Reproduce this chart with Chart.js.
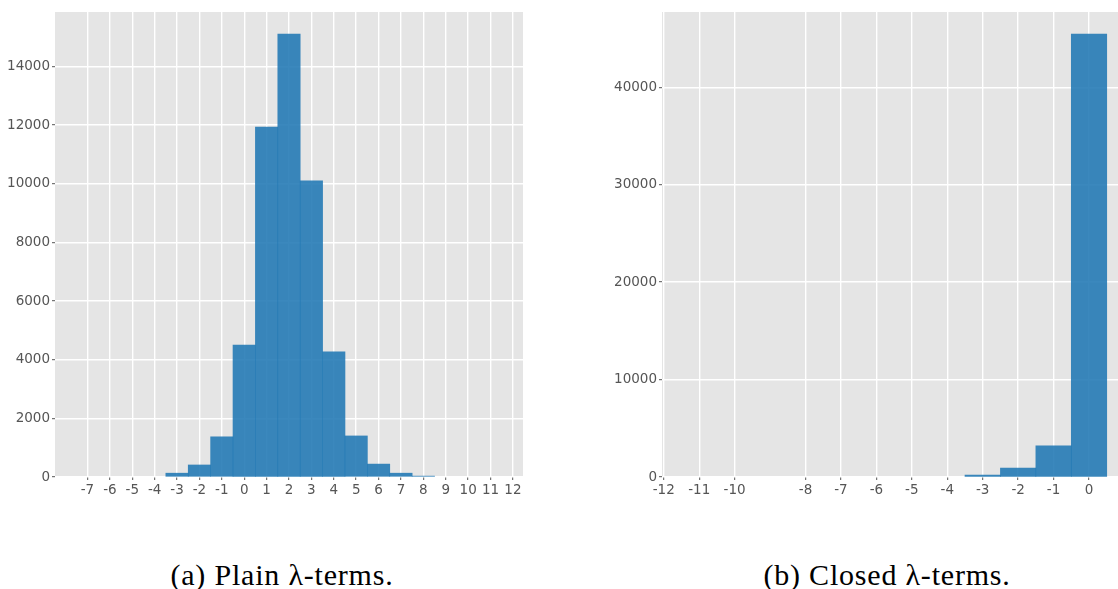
<!DOCTYPE html>
<html>
<head>
<meta charset="utf-8">
<script src="https://cdn.jsdelivr.net/npm/chart.js@4.4.1/dist/chart.umd.min.js"></script>
<style>
  html, body { margin: 0; padding: 0; background: #fff; width: 1118px; height: 589px; overflow: hidden; }
  #wrap { position: relative; width: 1118px; height: 589px; overflow: hidden; }
  canvas { position: absolute; top: 0; }
  .cap { position: absolute; top: 558px; font-family: "Liberation Serif", serif; font-size: 30px; letter-spacing: 0.8px; color: #000; white-space: nowrap; transform: translateX(-50%); }
</style>
</head>
<body>
<div id="wrap">
  <canvas id="plain" width="540" height="500" style="left:0px"></canvas>
  <canvas id="closed" width="540" height="500" style="left:600px"></canvas>
  <div class="cap" style="left:282px">(a) Plain λ-terms.</div>
  <div class="cap" style="left:887px">(b) Closed λ-terms.</div>
</div>
<script>
// histogram (a): plain terms, bin centres and counts
const plainBins = [-7, -6, -5, -4, -3, -2, -1, 0, 1, 2, 3, 4, 5, 6, 7, 8, 9, 10, 11]
const plainCounts = [0, 0, 0, 0, 130, 410, 1370, 4500, 11930, 15100, 10100, 4270, 1400, 440, 130, 30, 0, 0, 0]
const plainXTicks = [-7, -6, -5, -4, -3, -2, -1, 0, 1, 2, 3, 4, 5, 6, 7, 8, 9, 10, 11, 12]
const plainYTicks = [0, 2000, 4000, 6000, 8000, 10000, 12000, 14000]

// histogram (b): closed terms
const closedBins = [-11, -10, -9, -8, -7, -6, -5, -4, -3, -2, -1, 0]
const closedCounts = [0, 0, 0, 0, 0, 0, 0, 0, 200, 920, 3200, 45470]
const closedXTicks = [-12, -11, -10, -8, -7, -6, -5, -4, -3, -2, -1, 0]
const closedYTicks = [0, 10000, 20000, 30000, 40000]

Chart.defaults.font.family = "DejaVu Sans"
Chart.defaults.font.size = 13.5
Chart.defaults.color = "#555555"

const bgPlugin = {
    id: "ggBackground",
    beforeDraw: (chart) => {
        const a = chart.chartArea
        const ctx = chart.ctx
        ctx.save()
        ctx.fillStyle = "#E5E5E5"
        ctx.fillRect(a.left, a.top, a.right - a.left, a.bottom - a.top)
        ctx.restore()
    }
}

const makeHist = (id, bins, counts, xTicks, yTicks, xRange, yMax, yWidth, padRight) => {
    const ctx = document.getElementById(id).getContext('2d')
    return new Chart(ctx, {
        type: 'bar',
        data: {
            datasets: [{
                // empty bins stay in the data but draw nothing
                data: bins.map((b, i) => ({ x: b, y: counts[i] === 0 ? null : counts[i] })),
                backgroundColor: "rgba(31, 119, 180, 0.875)",
                borderWidth: 0,
                barPercentage: 1,
                categoryPercentage: 1
            }]
        },
        options: {
            responsive: false,
            animation: false,
            events: [],
            layout: { padding: { top: 12, right: padRight, left: 0, bottom: 0 } },
            plugins: {
                legend: { display: false },
                tooltip: { enabled: false }
            },
            scales: {
                x: {
                    type: 'linear',
                    offset: false,
                    min: xRange[0],
                    max: xRange[1],
                    afterBuildTicks: (scale) => { scale.ticks = xTicks.map(v => ({ value: v })) },
                    afterFit: (scale) => { scale.height = 23 },
                    grid: { offset: false, color: "#FFFFFF", lineWidth: 1.4, tickColor: "#555555", tickLength: 3, tickWidth: 1 },
                    border: { display: false },
                    ticks: { padding: 2, maxRotation: 0, autoSkip: false, callback: v => String(v) }
                },
                y: {
                    min: 0,
                    max: yMax,
                    afterBuildTicks: (scale) => { scale.ticks = yTicks.map(v => ({ value: v })) },
                    afterFit: (scale) => { scale.width = yWidth },
                    grid: { color: "#FFFFFF", lineWidth: 1.4, tickColor: "#555555", tickLength: 3, tickWidth: 1 },
                    border: { display: false },
                    ticks: { padding: 2, callback: v => String(v) }
                }
            }
        },
        plugins: [bgPlugin]
    })
}

makeHist('plain', plainBins, plainCounts, plainXTicks, plainYTicks, [-8.45, 12.45], 15855, 55, 17)
makeHist('closed', closedBins, closedCounts, closedXTicks, closedYTicks, [-12.05, 1.1], 47740, 62, 12)
</script>
</body>
</html>
